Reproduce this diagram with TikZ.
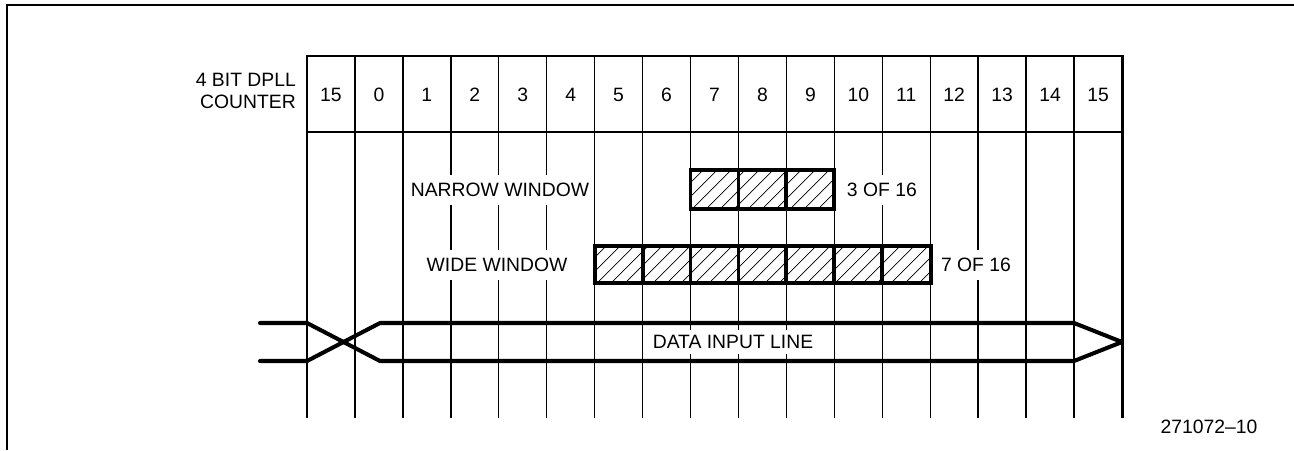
\documentclass[tikz,border=0pt]{standalone}
\usepackage{fontspec}
\setmainfont{Liberation Sans}
\begin{document}
\begin{tikzpicture}[x=0.02cm,y=-0.02cm,
		grid/.style={line width=0.8pt},
		edge/.style={line width=1.7pt},
		win/.style={line width=2.2pt},
		hatch/.style={line width=0.4pt},
		sig/.style={line width=2.3pt,line cap=round,line join=round},
		txt/.style={font=\fontsize{11}{13}\selectfont},
		lbl/.style={txt,fill=white,inner xsep=1.5pt,inner ysep=4.8pt}]
		\useasboundingbox (0,0) rectangle (1294,450);
		\draw[line width=1.1pt] (1294,5) -- (7,5) -- (7,450);
		\foreach \i in {1,...,16}
			\draw[grid] ({307+47.94*\i},56) -- ({307+47.94*\i},418);
		\draw[edge] (307,418) -- (307,56) -- (1122,56) -- (1122,418);
		\draw[edge] (307,132) -- (1122,132);
		\foreach \n [count=\i from 0] in {15,0,1,...,15}
			\node[txt] (c\i) at ({307+47.94*(\i+0.5)},95) {\n};
		\node[txt,align=right,anchor=east] (counter) at (302,91) {4 BIT DPLL\\COUNTER};
		\begin{scope}
			\clip (690.5,170) rectangle (834.3,209);
			\foreach \k in {0,...,14}
				\draw[hatch] ({650+14*\k},209) -- ++(40,-40);
		\end{scope}
		\draw[win] (690.5,170) rectangle (834.3,209);
		\foreach \i in {9,10}
			\draw[win] ({307+47.94*\i},170) -- ({307+47.94*\i},209);
		\begin{scope}
			\clip (594.6,246) rectangle (930.6,283);
			\foreach \k in {0,...,28}
				\draw[hatch] ({555+14*\k},283) -- ++(40,-40);
		\end{scope}
		\draw[win] (594.6,246) rectangle (930.6,283);
		\foreach \i in {7,...,12}
			\draw[win] ({307+47.94*\i},246) -- ({307+47.94*\i},283);
		\node[lbl] (narrow) at (500,190) {NARROW WINDOW};
		\node[lbl,anchor=west] (narrowcnt) at (844,190) {3 OF 16};
		\node[lbl] (wide) at (497,265) {WIDE WINDOW};
		\node[lbl,anchor=west] (widecnt) at (938,265) {7 OF 16};
		\node[lbl,inner ysep=3pt] (data) at (733,342) {DATA INPUT LINE};
		\draw[sig] (260,323) -- (307,323) -- (380,361) -- (1074,361) -- (1122,342);
		\draw[sig] (260,361) -- (307,361) -- (380,323) -- (1074,323) -- (1122,342);
		\node[font=\fontsize{11}{13}\selectfont] (fig) at (1209,427) {271072--10};
	\end{tikzpicture}
\end{document}
